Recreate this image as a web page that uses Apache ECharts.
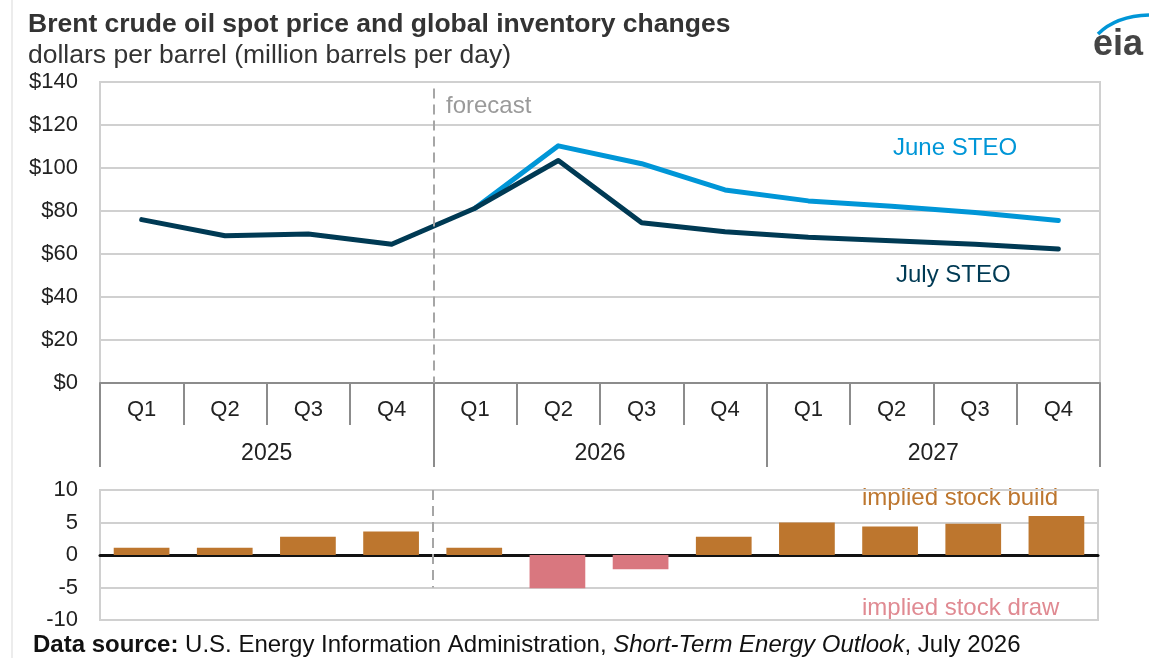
<!DOCTYPE html>
<html>
<head>
<meta charset="utf-8">
<script src="https://cdn.jsdelivr.net/npm/echarts@6/dist/echarts.min.js"></script>
<style>
  html, body { margin: 0; padding: 0; background: #fff; }
  #chart { width: 1149px; height: 658px; }
</style>
</head>
<body>
<div id="chart"></div>
<script>
// quarters (unique keys, label shows quarter only)
var quarters = ['2025 Q1', '2025 Q2', '2025 Q3', '2025 Q4',
                '2026 Q1', '2026 Q2', '2026 Q3', '2026 Q4',
                '2027 Q1', '2027 Q2', '2027 Q3', '2027 Q4'];
var years = ['2025', '2026', '2027'];
var priceTicks = [0, 20, 40, 60, 80, 100, 120, 140];
var stockTicks = [-10, -5, 0, 5, 10];

// Brent price, dollars per barrel
var julySteo = [76, 68.5, 69.3, 64.5, 81.3, 103.5, 74.5, 70.3, 67.8, 66.2, 64.5, 62.3];
var juneSteo = ['-', '-', '-', '-', 81.3, 110.3, 102, 89.8, 84.7, 82.2, 79.3, 75.6];

// implied global inventory change, million barrels per day
var stockChange = [1.1, 1.1, 2.8, 3.6, 1.1, -5.1, -2.2, 2.8, 5.0, 4.4, 4.8, 6.0];

var forecastStart = 4; // first forecast quarter index

var FONT = '"Liberation Sans", Arial, sans-serif';
var DARK = '#003a54';
var BLUE = '#0096d7';
var BUILD = '#bd762e';
var DRAW = '#d9777f';
var GRID = '#d0d0d0';
var AXIS = '#8c8c8c';

var myChart = echarts.init(document.getElementById('chart'));

var option = {
  backgroundColor: '#fff',
  textStyle: { fontFamily: FONT },
  animation: false,
  title: [
    {
      text: 'Brent crude oil spot price and global inventory changes',
      left: 23, top: 6,
      textStyle: { fontFamily: FONT, fontSize: 26.5, fontWeight: 'bold', color: '#333' }
    },
    {
      text: 'dollars per barrel (million barrels per day)',
      left: 23, top: 37,
      textStyle: { fontFamily: FONT, fontSize: 26.5, fontWeight: 'normal', color: '#333' }
    },
    {
      text: '{b|Data source:} U.S. Energy Information Administration, {i|Short-Term Energy Outlook}, July 2026',
      left: 28, top: 628,
      textStyle: {
        fontFamily: FONT, fontSize: 24, fontWeight: 'normal', color: '#111',
        rich: {
          b: { fontFamily: FONT, fontSize: 24, fontWeight: 'bold', color: '#111' },
          i: { fontFamily: FONT, fontSize: 24, fontStyle: 'italic', color: '#111' }
        }
      }
    }
  ],
  grid: [
    { left: 100, right: 49, top: 82, height: 301, show: true, borderColor: GRID, borderWidth: 2 },
    { left: 100, right: 51, top: 490, height: 130, show: true, borderColor: GRID, borderWidth: 2 }
  ],
  xAxis: [
    {
      gridIndex: 0, type: 'category', data: quarters, position: 'bottom',
      axisLine: { lineStyle: { color: AXIS, width: 2 } },
      axisTick: { show: true, alignWithLabel: false, length: 42, lineStyle: { color: AXIS, width: 2 } },
      axisLabel: {
        margin: 16, fontSize: 22, color: '#222', interval: 0,
        formatter: function (v) { return v.split(' ')[1]; }
      }
    },
    {
      gridIndex: 0, type: 'category', data: years, position: 'bottom',
      axisLine: { show: false },
      axisTick: { show: true, alignWithLabel: false, length: 84, lineStyle: { color: AXIS, width: 2 } },
      axisLabel: { margin: 59, fontSize: 23, color: '#222' }
    },
    { gridIndex: 0, type: 'value', min: 0, max: quarters.length, show: false },
    {
      gridIndex: 1, type: 'category', data: quarters,
      axisLine: { onZero: true, lineStyle: { color: '#111', width: 3 } },
      axisTick: { show: false },
      axisLabel: { show: false }
    },
    { gridIndex: 1, type: 'value', min: 0, max: quarters.length, show: false }
  ],
  yAxis: [
    {
      gridIndex: 0, type: 'value',
      min: priceTicks[0], max: priceTicks[priceTicks.length - 1], interval: 20,
      axisLine: { show: false }, axisTick: { show: false },
      splitLine: { lineStyle: { color: GRID, width: 2 } },
      axisLabel: { fontSize: 22, color: '#222', margin: 22, formatter: function (v) { return '$' + v; } }
    },
    {
      gridIndex: 1, type: 'value',
      min: stockTicks[0], max: stockTicks[stockTicks.length - 1], interval: 5,
      axisLine: { show: false }, axisTick: { show: false },
      splitLine: { lineStyle: { color: GRID, width: 2 } },
      axisLabel: { fontSize: 22, color: '#222', margin: 22 }
    }
  ],
  series: [
    {
      name: 'forecast line top', type: 'line', xAxisIndex: 2, yAxisIndex: 0, data: [],
      markLine: {
        silent: true, symbol: 'none', label: { show: false },
        lineStyle: { color: '#a6a6a6', width: 2, type: [10, 6] },
        data: [[{ coord: [forecastStart, 137] }, { coord: [forecastStart, 0] }]]
      }
    },
    {
      name: 'forecast line bottom', type: 'line', xAxisIndex: 4, yAxisIndex: 1, data: [],
      markLine: {
        silent: true, symbol: 'none', label: { show: false },
        lineStyle: { color: '#a6a6a6', width: 2, type: [10, 6] },
        data: [[{ coord: [forecastStart, 10] }, { coord: [forecastStart, -5] }]]
      }
    },
    {
      name: 'June STEO', type: 'line', xAxisIndex: 0, yAxisIndex: 0,
      data: juneSteo, showSymbol: false, symbol: 'none',
      lineStyle: { color: BLUE, width: 5, cap: 'round', join: 'round' },
      itemStyle: { color: BLUE }, z: 3
    },
    {
      name: 'July STEO', type: 'line', xAxisIndex: 0, yAxisIndex: 0,
      data: julySteo, showSymbol: false, symbol: 'none',
      lineStyle: { color: DARK, width: 5, cap: 'round', join: 'round' },
      itemStyle: { color: DARK }, z: 4
    },
    {
      name: 'stock change', type: 'bar', xAxisIndex: 3, yAxisIndex: 1,
      barCategoryGap: '33%',
      data: stockChange.map(function (v) {
        return { value: v, itemStyle: { color: v < 0 ? DRAW : BUILD } };
      }),
      z: 2
    }
  ],
  graphic: [
    { type: 'line', shape: { x1: 12, y1: 0, x2: 12, y2: 658 }, style: { stroke: '#d9d9d9', lineWidth: 1 } },
    { type: 'text', left: 446, top: 94, style: { text: 'forecast', fill: '#9a9a9a', font: '24px ' + FONT } },
    { type: 'text', left: 893, top: 136, style: { text: 'June STEO', fill: BLUE, font: '24px ' + FONT } },
    { type: 'text', left: 896, top: 263, style: { text: 'July STEO', fill: DARK, font: '24px ' + FONT } },
    { type: 'text', left: 862, top: 486, style: { text: 'implied stock build', fill: BUILD, font: '24px ' + FONT } },
    { type: 'text', left: 862, top: 596, style: { text: 'implied stock draw', fill: '#e08a92', font: '24px ' + FONT } },
    { type: 'text', left: 1093, top: 27, style: { text: 'eia', fill: '#444', font: 'bold 36px ' + FONT } },
    {
      type: 'bezierCurve',
      shape: { x1: 1098, y1: 34, cpx1: 1116, cpy1: 16, x2: 1149, y2: 15 },
      style: { stroke: BLUE, lineWidth: 3.5, fill: 'none' }
    }
  ]
};

myChart.setOption(option);
</script>
</body>
</html>
